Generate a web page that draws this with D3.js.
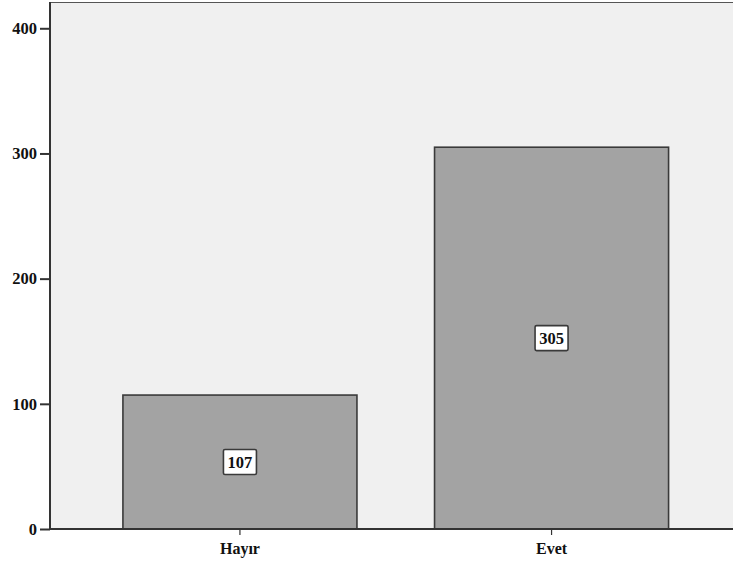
<!DOCTYPE html>
<html><head><meta charset="utf-8">
<script src="https://cdn.jsdelivr.net/npm/d3@7"></script>
<style>body{margin:0;background:#fff;}svg{display:block;}</style>
</head><body>
<script>
const categories = ["Hayır", "Evet"];
const counts = [107, 305];
const yTicks = [0, 100, 200, 300, 400];

const W = 733, H = 565;
const mLeft = 50, mTop = 2, mBottom = 529, mRight = 741.5;
const svg = d3.select("body").append("svg").attr("width", W).attr("height", H);

const y = d3.scaleLinear().domain([0, 421]).range([mBottom, mTop]);
const x = d3.scaleBand().domain(categories).range([mLeft, mRight]).paddingInner(0.249).paddingOuter(0.234);

svg.append("rect").attr("x", mLeft).attr("y", mTop).attr("width", W - mLeft).attr("height", mBottom - mTop).attr("fill", "#f0f0f0");
svg.append("line").attr("x1", mLeft).attr("x2", W).attr("y1", mTop + 0.5).attr("y2", mTop + 0.5).attr("stroke", "#555").attr("stroke-width", 1.2);

svg.selectAll("rect.bar").data(counts).join("rect").attr("class", "bar")
  .attr("x", (d, i) => x(categories[i])).attr("width", x.bandwidth())
  .attr("y", d => y(d)).attr("height", d => mBottom - y(d))
  .attr("fill", "#a3a3a3").attr("stroke", "#3a3a3a").attr("stroke-width", 1.6);

const font = "'Liberation Serif', 'Times New Roman', serif";
const lbl = svg.selectAll("g.lbl").data(counts).join("g").attr("class", "lbl")
  .attr("transform", (d, i) => `translate(${x(categories[i]) + x.bandwidth() / 2},${y(d / 2)})`);
lbl.append("rect").attr("x", -16.5).attr("y", -12.5).attr("width", 33).attr("height", 25)
  .attr("fill", "#fff").attr("stroke", "#3a3a3a").attr("stroke-width", 1.6).attr("rx", 1.5);
lbl.append("text").attr("text-anchor", "middle").attr("dy", "0.35em")
  .attr("font-family", font).attr("font-weight", "bold").attr("font-size", 16.5).attr("fill", "#111")
  .text(d => d);

const yAxis = svg.append("g").attr("transform", `translate(${mLeft},0)`)
  .call(d3.axisLeft(y).tickValues(yTicks).tickSize(10).tickPadding(3).tickSizeOuter(0));
yAxis.select(".domain").remove();
yAxis.selectAll("line").attr("stroke", "#333").attr("stroke-width", 2);
yAxis.selectAll("text").attr("font-family", font).attr("font-weight", "bold").attr("font-size", 16.5).attr("fill", "#111");

const xAxis = svg.append("g").attr("transform", `translate(0,${mBottom})`)
  .call(d3.axisBottom(x).tickSize(6).tickPadding(8).tickSizeOuter(0));
xAxis.select(".domain").remove();
xAxis.selectAll("line").attr("stroke", "#333").attr("stroke-width", 1.2);
xAxis.selectAll("text").attr("font-family", font).attr("font-weight", "bold").attr("font-size", 16).attr("fill", "#111");

svg.append("line").attr("x1", mLeft).attr("x2", mLeft).attr("y1", mTop).attr("y2", mBottom + 1).attr("stroke", "#333").attr("stroke-width", 2);
svg.append("line").attr("x1", mLeft - 1).attr("x2", W).attr("y1", mBottom).attr("y2", mBottom).attr("stroke", "#333").attr("stroke-width", 2);
</script>
</body></html>
